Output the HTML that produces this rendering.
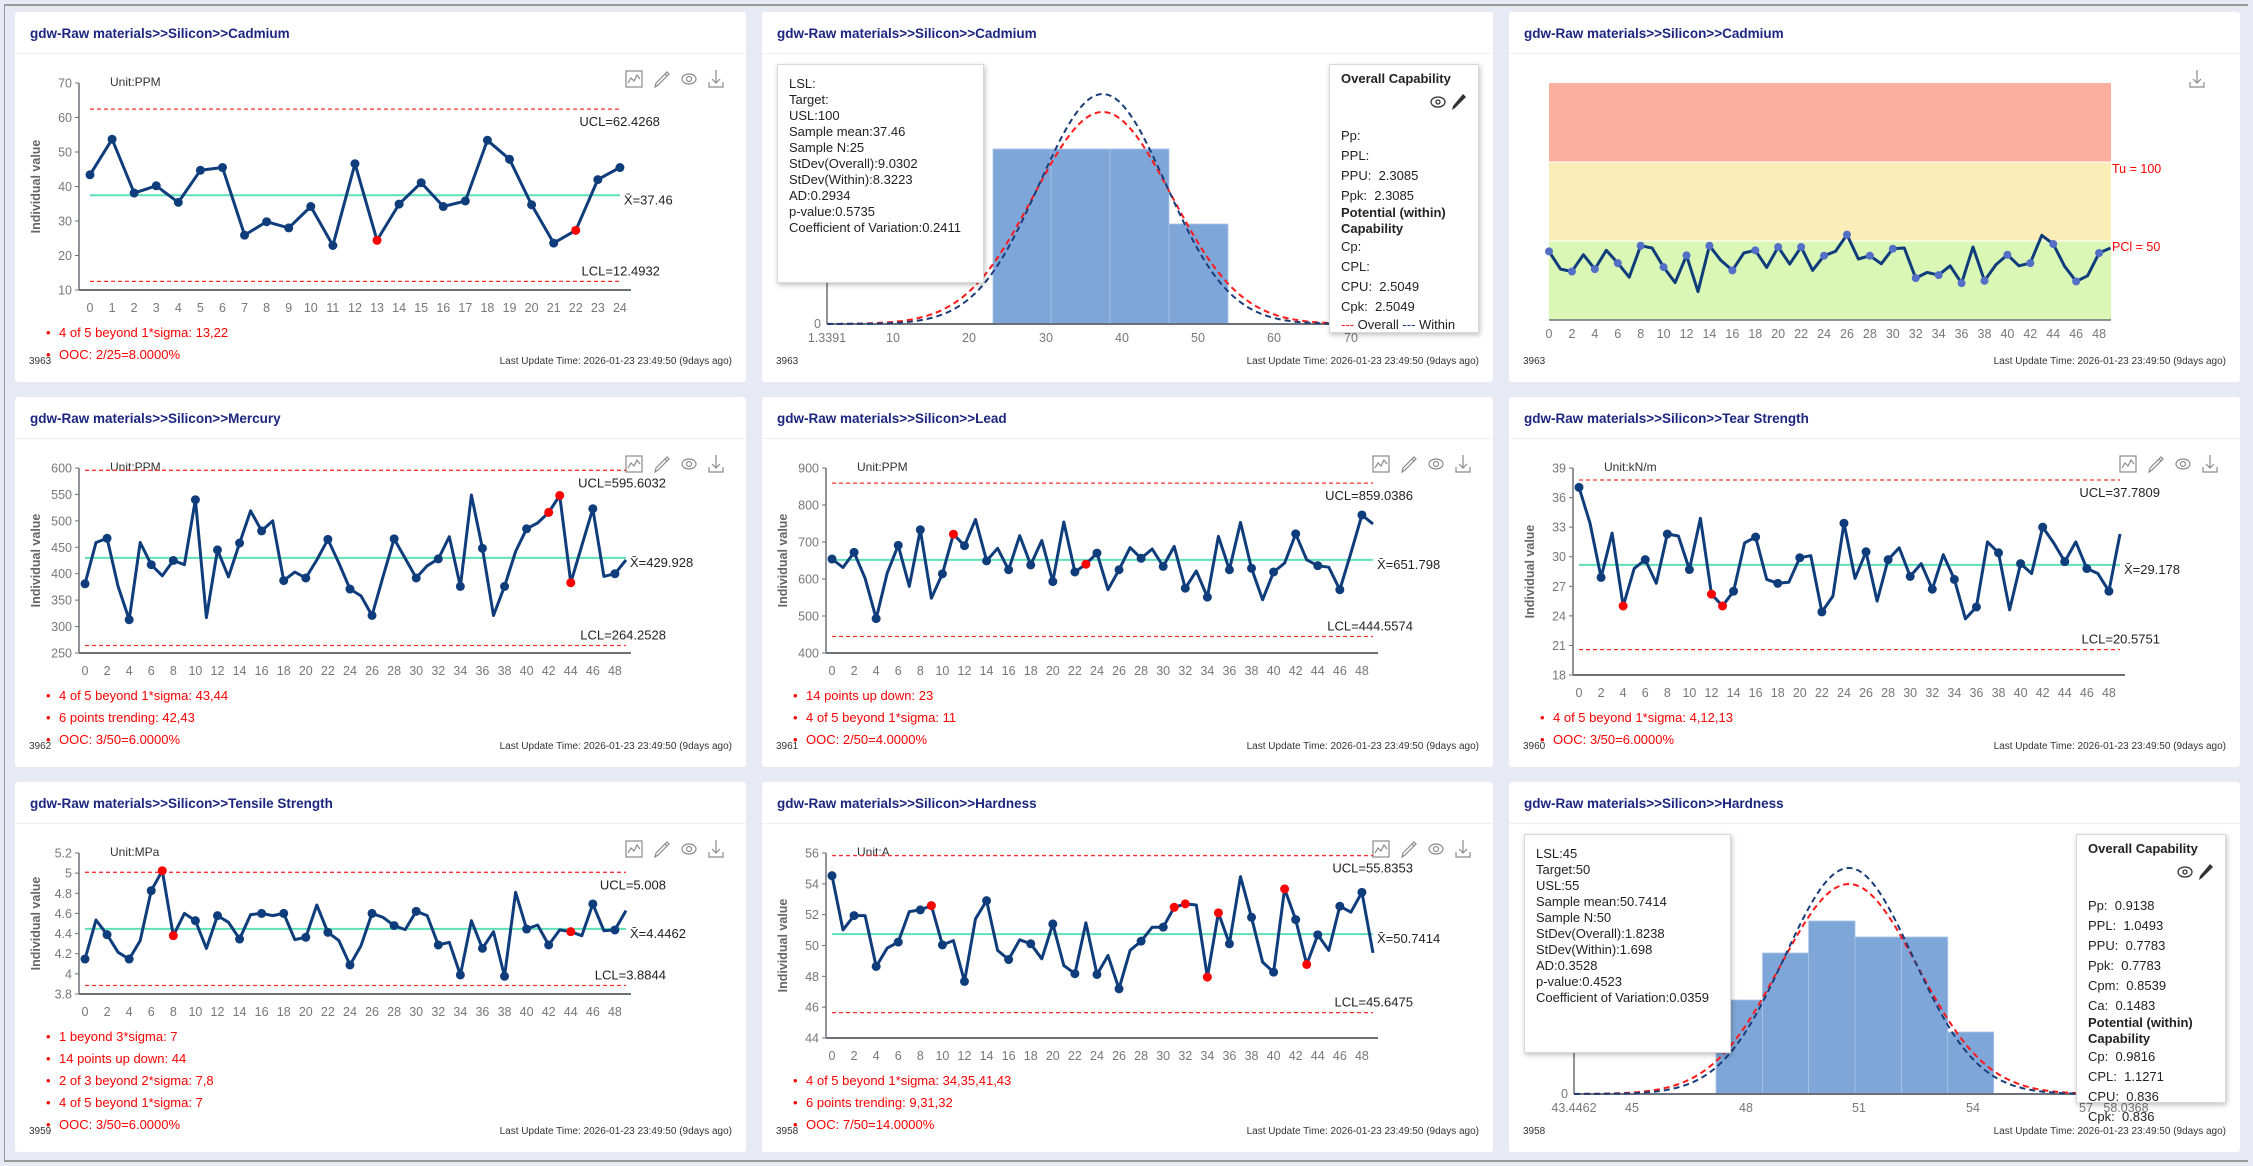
<!DOCTYPE html>
<html><head><meta charset="utf-8">
<style>
body{margin:0;padding:0;}
#root{position:relative;width:2253px;height:1166px;background:#e7eaf4;overflow:hidden;font-family:"Liberation Sans",sans-serif;}
#frame{position:absolute;left:4px;top:4px;width:2244px;height:1158px;border-top:2px solid #9a9a9a;border-left:1px solid #9a9a9a;border-bottom:2px solid #9a9a9a;box-sizing:border-box;}
.panel{position:absolute;width:731px;height:370px;background:#fff;border-radius:3px;overflow:hidden;}
.panel svg{position:absolute;left:0;top:0;}
.box{position:absolute;background:#fff;border:1px solid #d8d8d8;box-shadow:1px 2px 5px rgba(0,0,0,0.25);font-size:13px;color:#222;line-height:16px;box-sizing:border-box;}
.cap{position:absolute;font-size:13px;color:#222;white-space:nowrap;}
</style></head><body>
<div id="root"><div id="frame"></div></div>
<script>
var root=document.getElementById('root');
var PX=[15,762,1509],PY=[12,397,782];
function icons(xs){var s='';var c='#8a8a8a';
 s+='<g transform="translate('+xs[0]+',67)" fill="none" stroke="'+c+'" stroke-width="1.2"><rect x="-8" y="-8" width="16" height="16"/><polyline points="-6,4 -3,-1 0,2 3,-4 6,0"/></g>';
 s+='<g transform="translate('+xs[1]+',67)" fill="none" stroke="'+c+'" stroke-width="1.2"><polygon points="-7,8 -6,4 5,-7 7,-5 -4,6"/><line x1="3" y1="-5" x2="5" y2="-3"/></g>';
 s+='<g transform="translate('+xs[2]+',67)" fill="none" stroke="'+c+'" stroke-width="1.2"><ellipse rx="7" ry="5"/><circle r="2.5"/></g>';
 s+='<g transform="translate('+xs[3]+',67)" fill="none" stroke="'+c+'" stroke-width="1.2"><line x1="0" y1="-9" x2="0" y2="4"/><polyline points="-4,0 0,4 4,0"/><polyline points="-7,3 -7,8 7,8 7,3"/></g>';
 return s;}
function panelHTML(c,r,title,svg,num,extra){
 var s='<div class="panel" style="left:'+PX[c]+'px;top:'+PY[r]+'px"><svg width="731" height="370" font-family="Liberation Sans, sans-serif">';
 s+='<text x="15" y="26" font-size="13.5" font-weight="bold" fill="#1c2680">'+title+'</text>';
 s+='<line x1="0" y1="41.5" x2="731" y2="41.5" stroke="#f0f0f0"/>';
 s+=svg;
 s+='<text x="14" y="352" font-size="10" fill="#333">'+num+'</text>';
 s+='<text x="717" y="352" font-size="10" fill="#333" text-anchor="end">Last Update Time: 2026-01-23 23:49:50 (9days ago)</text>';
 s+='</svg>'+(extra||'')+'</div>';
 root.insertAdjacentHTML('beforeend',s);}
function cc(c,r,o){
 var n=o.d.length,top=71,bot=278-22*(o.rules.length-2);
 var x0=n==25?75:70,st=n==25?22.08:11.04;
 function X(i){return x0+i*st;}
 function Y(v){return bot-(v-o.ymin)/(o.ymax-o.ymin)*(bot-top);}
 var s='',ax='#6e7079';
 s+='<text x="95" y="74" font-size="12" fill="#333">'+o.unit+'</text>';
 s+=icons([619,647,674,701]);
 var cy=(top+bot)/2;
 s+='<text transform="translate(25,'+cy+') rotate(-90)" text-anchor="middle" font-size="12.5" font-weight="bold" fill="#666">Individual value</text>';
 for(var v=o.ymin;v<=o.ymax+1e-9;v+=o.ystep){var y=Y(v);
  s+='<line x1="60" y1="'+y+'" x2="64" y2="'+y+'" stroke="'+ax+'"/>';
  s+='<text x="57" y="'+(y+4.5)+'" font-size="12.5" fill="#777" text-anchor="end">'+parseFloat(v.toFixed(2))+'</text>';}
 s+='<line x1="64" y1="'+top+'" x2="64" y2="'+bot+'" stroke="'+ax+'" stroke-width="1.5"/>';
 s+='<line x1="64" y1="'+bot+'" x2="616" y2="'+bot+'" stroke="'+ax+'" stroke-width="2"/>';
 for(var i=0;i<n;i++){if(n==50&&i%2)continue;s+='<text x="'+X(i)+'" y="'+(bot+22)+'" font-size="12.5" fill="#777" text-anchor="middle">'+i+'</text>';}
 var xe=X(n-1);
 s+='<line x1="'+X(0)+'" y1="'+Y(o.ucl)+'" x2="'+xe+'" y2="'+Y(o.ucl)+'" stroke="#ff3030" stroke-width="1.3" stroke-dasharray="4,3"/>';
 s+='<line x1="'+X(0)+'" y1="'+Y(o.lcl)+'" x2="'+xe+'" y2="'+Y(o.lcl)+'" stroke="#ff3030" stroke-width="1.3" stroke-dasharray="4,3"/>';
 s+='<line x1="'+X(0)+'" y1="'+Y(o.mean)+'" x2="'+xe+'" y2="'+Y(o.mean)+'" stroke="#5fe0b8" stroke-width="2"/>';
 s+='<text x="'+(xe+40)+'" y="'+(Y(o.ucl)+17)+'" font-size="13" fill="#222" text-anchor="end">UCL='+o.ucl+'</text>';
 s+='<text x="'+(xe+40)+'" y="'+(Y(o.lcl)-6)+'" font-size="13" fill="#222" text-anchor="end">LCL='+o.lcl+'</text>';
 s+='<text x="'+(xe+4)+'" y="'+(Y(o.mean)+9)+'" font-size="13" fill="#222">X̄='+o.mean+'</text>';
 var p='';for(i=0;i<n;i++)p+=(i?'L':'M')+X(i).toFixed(1)+' '+Y(o.d[i]).toFixed(1);
 s+='<path d="'+p+'" fill="none" stroke="#0f3d7c" stroke-width="3" stroke-linejoin="round"/>';
 for(i=0;i<n;i++){var red=o.red.indexOf(i)>=0;if(!red&&n==50&&i%2)continue;
  s+='<circle cx="'+X(i)+'" cy="'+Y(o.d[i])+'" r="4.5" fill="'+(red?'#ff0000':'#0f3d7c')+'"/>';}
 var L=o.rules.length;
 for(i=0;i<L;i++){var yy=347-22*(L-1-i);
  s+='<text x="31" y="'+yy+'" font-size="13" fill="#ff0000">•</text><text x="44" y="'+yy+'" font-size="13" fill="#ff0000">'+o.rules[i]+'</text>';}
 panelHTML(c,r,o.title,s,o.num);}
function hist(c,r,o){
 var s='',ax='#6e7079',base=312;
 s+='<line x1="65" y1="71" x2="65" y2="'+base+'" stroke="'+ax+'" stroke-width="1.5"/>';
 s+='<text x="59" y="'+(base+4)+'" font-size="12.5" fill="#777" text-anchor="end">0</text>';
 for(var i=0;i<o.bars.length;i++){var b=o.bars[i];
  s+='<rect x="'+b[0]+'" y="'+b[2]+'" width="'+(b[1]-b[0])+'" height="'+(base-b[2])+'" fill="#7ea6d8" stroke="#a9c4e8" stroke-width="0.8"/>';}
 s+='<line x1="65" y1="'+base+'" x2="620" y2="'+base+'" stroke="'+ax+'" stroke-width="2"/>';
 for(i=0;i<o.ticks.length;i++)s+='<text x="'+o.ticks[i][0]+'" y="'+(base+18)+'" font-size="12.5" fill="#777" text-anchor="middle">'+o.ticks[i][1]+'</text>';
 function curve(sig,h,col){var p='';for(var x=65;x<=600;x+=2){var y=base-h*Math.exp(-Math.pow((x-o.cx)/sig,2)/2);p+=(x==65?'M':'L')+x+' '+y.toFixed(1);}
  return '<path d="'+p+'" fill="none" stroke="'+col+'" stroke-width="2" stroke-dasharray="6,4"/>';}
 s+=curve(o.sigO,o.hO,'#ff1a1a');s+=curve(o.sigW,o.hW,'#1a3d7a');
 var ex='<div class="box" style="left:15px;top:52px;width:207px;height:219px;padding:11px 0 0 11px">'+o.stats.join('<br>')+'</div>';
 ex+='<div class="box" style="left:567px;top:52px;width:150px;height:269px;overflow:'+(o.clip?'hidden':'visible')+'">';
 ex+='<div class="cap" style="left:11px;top:6px;font-weight:bold">Overall Capability</div>';
 ex+='<svg width="40" height="20" style="position:absolute;left:98px;top:28px;overflow:visible"><g transform="translate(10,9)" fill="none" stroke="#333" stroke-width="1.3"><ellipse rx="7" ry="5"/><circle r="2"/></g><g transform="translate(30,9)"><polygon points="-6,8 -5,4 5,-8 8,-5 -3,6" fill="#333"/></g></svg>';
 for(i=0;i<o.cap.length;i++){var it=o.cap[i];ex+='<div class="cap" style="left:11px;top:'+(it[0]-52-12)+'px;'+(it[2]?'font-weight:bold':'')+'">'+it[1]+'</div>';}
 ex+='</div>';
 panelHTML(c,r,o.title,s,o.num,ex);}
var T='gdw-Raw materials&gt;&gt;Silicon&gt;&gt;';
cc(0,0,{title:T+'Cadmium',num:'3963',unit:'Unit:PPM',ymin:10,ymax:70,ystep:10,ucl:'62.4268',lcl:'12.4932',mean:'37.46',
 d:[43.4,53.7,38.1,40.2,35.4,44.7,45.5,25.9,29.8,28.0,34.2,22.9,46.6,24.4,34.9,41.1,34.2,35.8,53.4,47.9,34.7,23.6,27.3,42.0,45.5],red:[13,22],
 rules:['4 of 5 beyond 1*sigma: 13,22','OOC: 2/25=8.0000%']});
hist(1,0,{title:T+'Cadmium',num:'3963',cx:340.6,sigO:68.9,sigW:63.5,hO:212,hW:230,clip:true,
 bars:[[231,289,137],[289,348,137],[348,407,137],[407,466,212]],
 ticks:[[65,'1.3391'],[131,'10'],[207,'20'],[284,'30'],[360,'40'],[436,'50'],[512,'60'],[589,'70']],
 stats:['LSL:','Target:','USL:100','Sample mean:37.46','Sample N:25','StDev(Overall):9.0302','StDev(Within):8.3223','AD:0.2934','p-value:0.5735','Coefficient of Variation:0.2411'],
 cap:[[127,'Pp:'],[147,'PPL:'],[167,'PPU:&nbsp; 2.3085'],[187,'Ppk:&nbsp; 2.3085'],[204,'Potential (within)',1],[220,'Capability',1],[238,'Cp:'],[258,'CPL:'],[278,'CPU:&nbsp; 2.5049'],[298,'Cpk:&nbsp; 2.5049'],[316,'<span style="color:#ff1a1a">---</span> Overall <span style="color:#1a3d7a">---</span> Within']]});
(function(){var d=[43.4,32.2,30.7,41.3,32.2,44.1,36.0,27.1,47.0,45.6,33.5,23.7,40.9,18.0,47.0,37.7,31.4,42.4,44.1,33.3,46.2,35.4,46.2,31.4,40.7,43.4,54.0,38.6,40.7,35.6,45.1,45.6,26.5,30.1,28.4,34.3,23.3,46.2,24.8,35.0,41.3,34.3,36.0,53.6,48.1,33.9,24.4,28.0,42.4,45.6];
 function X(i){return 40+i*11.46;}function Y(v){return 308-v*79/50;}
 var s='<rect x="40" y="71" width="562" height="79" fill="#fcae9f"/><rect x="40" y="150" width="562" height="79" fill="#faedb7"/><rect x="40" y="229" width="562" height="79" fill="#daf7b6"/>';
 s+='<line x1="40" y1="150" x2="602" y2="150" stroke="#fff" stroke-width="1"/><line x1="40" y1="229" x2="602" y2="229" stroke="#fff" stroke-width="1"/>';
 s+='<line x1="40" y1="308" x2="602" y2="308" stroke="#6e7079" stroke-width="1.5"/>';
 for(var i=0;i<50;i+=2)s+='<text x="'+X(i)+'" y="326" font-size="12.5" fill="#777" text-anchor="middle">'+i+'</text>';
 s+='<text x="603" y="161" font-size="12.5" fill="#ff0000">Tu = 100</text><text x="603" y="239" font-size="12.5" fill="#ff0000">PCl = 50</text>';
 s+='<g transform="translate(688,67)" fill="none" stroke="#8a8a8a" stroke-width="1.2"><line x1="0" y1="-9" x2="0" y2="4"/><polyline points="-4,0 0,4 4,0"/><polyline points="-7,3 -7,8 7,8 7,3"/></g>';
 var p='';for(i=0;i<50;i++)p+=(i?'L':'M')+X(i).toFixed(1)+' '+Y(d[i]).toFixed(1);
 s+='<path d="'+p+'" fill="none" stroke="#0f3d7c" stroke-width="3" stroke-linejoin="round"/>';
 for(i=0;i<50;i+=2)s+='<circle cx="'+X(i)+'" cy="'+Y(d[i])+'" r="4" fill="#5470c6"/>';
 panelHTML(2,0,T+'Cadmium',s,'3963');})();
cc(0,1,{title:T+'Mercury',num:'3962',unit:'Unit:PPM',ymin:250,ymax:600,ystep:50,ucl:'595.6032',lcl:'264.2528',mean:'429.928',
 d:[381,459,467,376,313,459,417,396,425,417,540,317,445,394,458,519,481,500,387,403,392,426,465,420,371,358,321,395,466,429,392,415,428,470,376,549,448,321,376,442,485,496,516,548,383,453,523,395,400,426],red:[42,43,44],
 rules:['4 of 5 beyond 1*sigma: 43,44','6 points trending: 42,43','OOC: 3/50=6.0000%']});
cc(1,1,{title:T+'Lead',num:'3961',unit:'Unit:PPM',ymin:400,ymax:900,ystep:100,ucl:'859.0386',lcl:'444.5574',mean:'651.798',
 d:[654,631,672,602,493,616,691,580,733,548,614,721,690,761,649,683,625,717,638,704,593,754,619,640,670,571,625,685,656,681,634,688,575,622,551,715,625,753,629,544,619,643,722,652,636,632,571,670,773,749],red:[11,23],
 rules:['14 points up down: 23','4 of 5 beyond 1*sigma: 11','OOC: 2/50=4.0000%']});
cc(2,1,{title:T+'Tear Strength',num:'3960',unit:'Unit:kN/m',ymin:18,ymax:39,ystep:3,ucl:'37.7809',lcl:'20.5751',mean:'29.178',
 d:[37.04,33.4,27.9,32.4,25.0,28.8,29.7,27.3,32.3,32.1,28.7,33.9,26.2,25.0,26.5,31.4,32.0,27.7,27.3,27.4,29.9,30.1,24.4,26.0,33.4,27.8,30.5,25.5,29.7,30.9,28.0,29.3,26.7,30.2,27.7,23.7,24.9,31.5,30.4,24.6,29.3,28.3,33.0,31.4,29.5,31.5,28.8,28.3,26.5,32.3],red:[4,12,13],
 rules:['4 of 5 beyond 1*sigma: 4,12,13','OOC: 3/50=6.0000%']});
cc(0,2,{title:T+'Tensile Strength',num:'3959',unit:'Unit:MPa',ymin:3.8,ymax:5.2,ystep:0.2,ucl:'5.008',lcl:'3.8844',mean:'4.4462',
 d:[4.147,4.535,4.389,4.214,4.147,4.33,4.826,5.024,4.379,4.60,4.528,4.253,4.578,4.512,4.346,4.588,4.60,4.578,4.60,4.34,4.363,4.684,4.412,4.33,4.088,4.28,4.60,4.561,4.479,4.439,4.621,4.578,4.287,4.313,3.989,4.528,4.253,4.419,3.976,4.81,4.445,4.485,4.287,4.436,4.419,4.379,4.694,4.429,4.436,4.628],red:[7,8,44],
 rules:['1 beyond 3*sigma: 7','14 points up down: 44','2 of 3 beyond 2*sigma: 7,8','4 of 5 beyond 1*sigma: 7','OOC: 3/50=6.0000%']});
cc(1,2,{title:T+'Hardness',num:'3958',unit:'Unit:A',ymin:44,ymax:56,ystep:2,ucl:'55.8353',lcl:'45.6475',mean:'50.7414',
 d:[54.53,51.01,51.94,51.94,48.64,49.83,50.22,52.20,52.31,52.59,50.04,50.32,47.67,51.73,52.91,49.68,49.09,50.37,50.11,49.14,51.40,48.70,48.17,51.47,48.12,49.35,47.19,49.68,50.28,51.19,51.19,52.48,52.70,52.63,47.95,52.12,50.11,54.47,51.83,48.92,48.27,53.67,51.68,48.77,50.69,49.68,52.55,52.16,53.45,49.52],red:[9,31,32,34,35,41,43],
 rules:['4 of 5 beyond 1*sigma: 34,35,41,43','6 points trending: 9,31,32','OOC: 7/50=14.0000%']});
hist(2,2,{title:T+'Hardness',num:'3958',cx:339.8,sigO:68.9,sigW:64.2,hO:210,hW:226,clip:false,
 bars:[[207,253.5,218],[253.5,299.6,171],[299.6,346,139],[346,392.6,155],[392.6,438.7,155],[438.7,484.7,250]],
 ticks:[[65,'43.4462'],[123,'45'],[237,'48'],[350,'51'],[464,'54'],[577,'57'],[617,'58.0368']],
 stats:['LSL:45','Target:50','USL:55','Sample mean:50.7414','Sample N:50','StDev(Overall):1.8238','StDev(Within):1.698','AD:0.3528','p-value:0.4523','Coefficient of Variation:0.0359'],
 cap:[[127,'Pp:&nbsp; 0.9138'],[147,'PPL:&nbsp; 1.0493'],[167,'PPU:&nbsp; 0.7783'],[187,'Ppk:&nbsp; 0.7783'],[207,'Cpm:&nbsp; 0.8539'],[227,'Ca:&nbsp; 0.1483'],[244,'Potential (within)',1],[260,'Capability',1],[278,'Cp:&nbsp; 0.9816'],[298,'CPL:&nbsp; 1.1271'],[318,'CPU:&nbsp; 0.836'],[338,'Cpk:&nbsp; 0.836']]});
</script>
</body></html>
